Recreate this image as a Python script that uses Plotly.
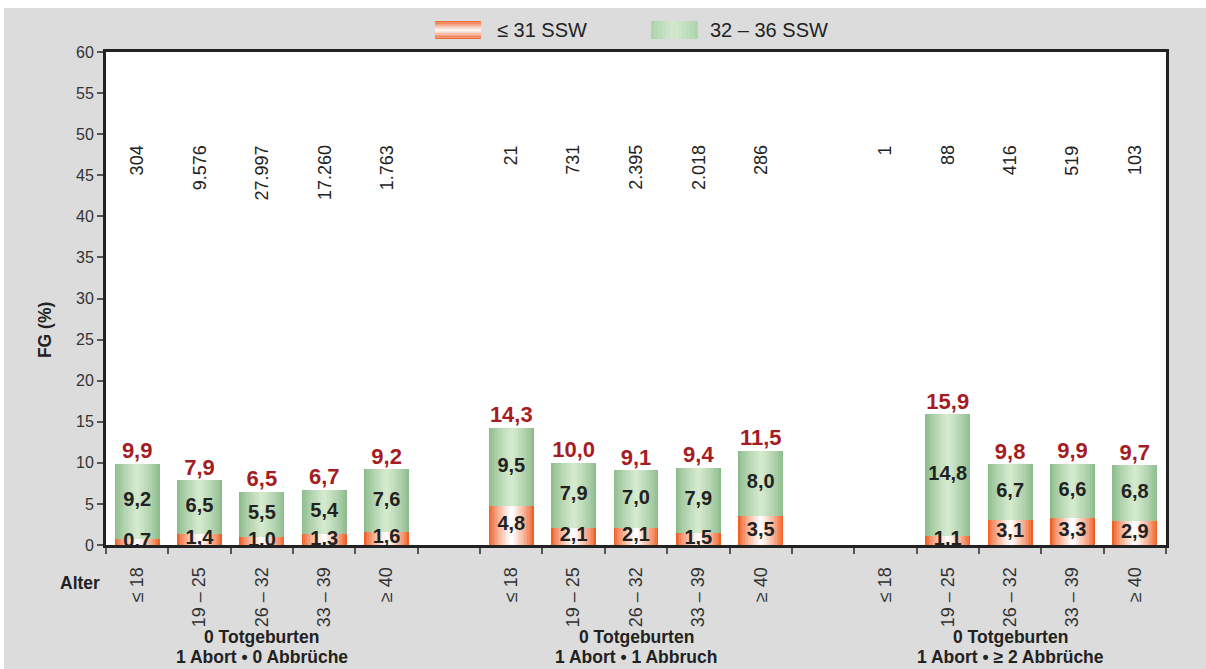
import plotly.graph_objects as go

# ---------------- data ----------------
groups_line1 = ["0 Totgeburten", "0 Totgeburten", "0 Totgeburten"]
groups_line2 = ["1 Abort • 0 Abbrüche", "1 Abort • 1 Abbruch", "1 Abort • ≥ 2 Abbrüche"]
ages = ["≤ 18", "19 – 25", "26 – 32", "33 – 39", "≥ 40"]

red_g1 = [0.7, 1.4, 1.0, 1.3, 1.6]
green_g1 = [9.2, 6.5, 5.5, 5.4, 7.6]
total_g1 = [9.9, 7.9, 6.5, 6.7, 9.2]
n_g1 = ["304", "9.576", "27.997", "17.260", "1.763"]

red_g2 = [4.8, 2.1, 2.1, 1.5, 3.5]
green_g2 = [9.5, 7.9, 7.0, 7.9, 8.0]
total_g2 = [14.3, 10.0, 9.1, 9.4, 11.5]
n_g2 = ["21", "731", "2.395", "2.018", "286"]

red_g3 = [None, 1.1, 3.1, 3.3, 2.9]
green_g3 = [None, 14.8, 6.7, 6.6, 6.8]
total_g3 = [None, 15.9, 9.8, 9.9, 9.7]
n_g3 = ["1", "88", "416", "519", "103"]

series_names = ["≤ 31 SSW", "32 – 36 SSW"]

# ---------------- assemble ----------------
reds = [red_g1, red_g2, red_g3]
greens = [green_g1, green_g2, green_g3]
totals = [total_g1, total_g2, total_g3]
ns = [n_g1, n_g2, n_g3]

FONT = "Liberation Sans, Arial, sans-serif"
slot = len(ages) + 1
xs, r, gv, tot, nl, agelab = [], [], [], [], [], []
for g in range(3):
    for i, a in enumerate(ages):
        xs.append(g * slot + i)
        r.append(reds[g][i])
        gv.append(greens[g][i])
        tot.append(totals[g][i])
        nl.append(ns[g][i])
        agelab.append(a)
nslots = 3 * slot - 1
xmin, xmax = -0.5, nslots - 0.5


def fmt(v):
    return "" if v is None else f"{v:.1f}".replace(".", ",")


def lerp(c1, c2, t):
    return "rgb(%d,%d,%d)" % tuple(round(a + (b - a) * t) for a, b in zip(c1, c2))


fig = go.Figure()
BW = 0.72
NL = 14
green_edge, green_mid = (142, 188, 142), (212, 234, 206)
red_edge, red_mid = (240, 96, 38), (255, 255, 255)
bx = [x for x, v in zip(xs, r) if v is not None]
rv = [v for v in r if v is not None]
gvv = [v for v in gv if v is not None]

for k in range(NL):
    t = k / (NL - 1)
    w = BW * (1 - k / NL)
    fig.add_trace(go.Bar(x=bx, y=rv, base=[0] * len(rv), width=w,
                         marker=dict(color=lerp(red_edge, red_mid, t ** 0.8), line=dict(width=0)),
                         showlegend=False, hoverinfo="skip", name=series_names[0]))
    fig.add_trace(go.Bar(x=bx, y=gvv, base=rv, width=w,
                         marker=dict(color=lerp(green_edge, green_mid, t ** 0.8), line=dict(width=0)),
                         showlegend=False, hoverinfo="skip", name=series_names[1]))

# inner value labels
fig.add_trace(go.Scatter(x=bx, y=[v / 2 for v in rv], mode="text",
                         text=[fmt(v) for v in rv],
                         textfont=dict(family=FONT, size=20, color="#222222", weight="bold"),
                         showlegend=False, hoverinfo="skip"))
fig.add_trace(go.Scatter(x=bx, y=[a + b / 2 for a, b in zip(rv, gvv)], mode="text",
                         text=[fmt(v) for v in gvv],
                         textfont=dict(family=FONT, size=20, color="#222222", weight="bold"),
                         showlegend=False, hoverinfo="skip"))
tv = [v for v in tot if v is not None]
fig.add_trace(go.Scatter(x=bx, y=tv, mode="text", textposition="top center",
                         text=[fmt(v) for v in tv],
                         textfont=dict(family=FONT, size=22, color="#a51d24", weight="bold"),
                         showlegend=False, hoverinfo="skip"))

annotations = []
for x, n in zip(xs, nl):
    annotations.append(dict(x=x, y=48.9, xref="x", yref="y", text=n, showarrow=False,
                            textangle=-90, xanchor="center", yanchor="top",
                            font=dict(family=FONT, size=18, color="#222222")))
for g in range(3):
    cx = g * slot + (len(ages) - 1) / 2
    annotations.append(dict(x=cx, y=-0.1866, xref="x", yref="paper", text=groups_line1[g],
                            showarrow=False, xanchor="center", yanchor="middle",
                            font=dict(family=FONT, size=17.5, color="#222222", weight="bold")))
    annotations.append(dict(x=cx, y=-0.2272, xref="x", yref="paper", text=groups_line2[g],
                            showarrow=False, xanchor="center", yanchor="middle",
                            font=dict(family=FONT, size=17.5, color="#222222", weight="bold")))
annotations.append(dict(x=-0.0245, y=-0.077, xref="paper", yref="paper", text="Alter",
                        showarrow=False, xanchor="center", yanchor="middle",
                        font=dict(family=FONT, size=17.5, color="#222222", weight="bold")))
annotations.append(dict(x=-0.0575, y=0.436, xref="paper", yref="paper", text="FG (%)",
                        textangle=-90, showarrow=False, xanchor="center", yanchor="middle",
                        font=dict(family=FONT, size=17.5, color="#222222", weight="bold")))
# legend text
annotations.append(dict(x=0.367, y=1.0446, xref="paper", yref="paper", text=series_names[0],
                        showarrow=False, xanchor="left", yanchor="middle",
                        font=dict(family=FONT, size=20, color="#222222")))
annotations.append(dict(x=0.5679, y=1.0446, xref="paper", yref="paper", text=series_names[1],
                        showarrow=False, xanchor="left", yanchor="middle",
                        font=dict(family=FONT, size=20, color="#222222")))

shapes = []
# white outer strips (top and left page edge)
shapes.append(dict(type="rect", xref="paper", yref="paper", x0=-0.2, x1=1.2, y0=(545 - 8) / 493, y1=1.2,
                   fillcolor="white", line=dict(width=0), layer="below"))
shapes.append(dict(type="rect", xref="paper", yref="paper", x0=-0.2, x1=(4 - 106) / 1060, y0=-0.5, y1=1.2,
                   fillcolor="white", line=dict(width=0), layer="below"))
# legend swatches
ys0, ys1 = (545 - 39) / 493, (545 - 21) / 493
rx0, rx1 = (435 - 106) / 1060, (481 - 106) / 1060
NS = 12
for k in range(NS):
    a = ys0 + (ys1 - ys0) * k / NS
    b = ys0 + (ys1 - ys0) * (k + 1) / NS
    t = 1 - abs((k + 0.5) / NS - 0.5) * 2
    shapes.append(dict(type="rect", xref="paper", yref="paper", x0=rx0, x1=rx1, y0=a, y1=b,
                       fillcolor=lerp(red_edge, red_mid, t), line=dict(width=0)))
gx0, gx1 = (651 - 106) / 1060, (698 - 106) / 1060
for k in range(NS):
    a = gx0 + (gx1 - gx0) * k / NS
    b = gx0 + (gx1 - gx0) * (k + 1) / NS
    t = 1 - abs((k + 0.5) / NS - 0.5) * 2
    shapes.append(dict(type="rect", xref="paper", yref="paper", x0=a, x1=b, y0=ys0, y1=ys1,
                       fillcolor=lerp((170, 212, 170), green_mid, t), line=dict(width=0)))

fig.update_layout(
    width=1206, height=669,
    margin=dict(l=106, r=40, t=52, b=124),
    paper_bgcolor="#dcdcdc", plot_bgcolor="white",
    barmode="overlay", bargap=0,
    showlegend=False,
    font=dict(family=FONT, color="#222222"),
    annotations=annotations, shapes=shapes,
    xaxis=dict(range=[xmin, xmax], tickmode="array",
               tickvals=xs, ticktext=agelab, tickangle=-90,
               ticks="", ticklabelstandoff=12,
               tickfont=dict(family=FONT, size=18, color="#333333"),
               minor=dict(tickmode="array", tickvals=[b - 0.5 for b in range(nslots + 1)],
                          ticks="outside", ticklen=6, tickwidth=1.5, tickcolor="#555555"),
               showline=True, linewidth=3, linecolor="#222222", mirror=True,
               showgrid=False, zeroline=False),
    yaxis=dict(range=[0, 60], dtick=5, ticks="outside", ticklen=6, tickwidth=1.5,
               tickcolor="#555555", tickfont=dict(family=FONT, size=16, color="#333333"),
               showline=True, linewidth=3, linecolor="#222222", mirror=True,
               showgrid=False, zeroline=False),
)

fig.write_html("out.html", config={"displayModeBar": False},
               post_script="document.body.style.margin='0';document.body.style.overflow='hidden';"
                           "document.documentElement.style.overflow='hidden';")
